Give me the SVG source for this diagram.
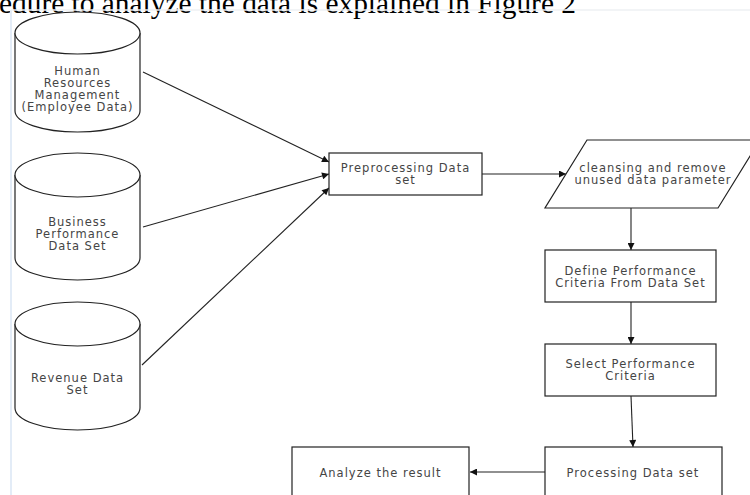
<svg xmlns="http://www.w3.org/2000/svg" width="750" height="495" viewBox="0 0 750 495">
<style>
.shape{fill:#fff;stroke:#222;stroke-width:1.2}
.lbl{font-family:"DejaVu Sans",sans-serif;font-size:11.5px;letter-spacing:1px;fill:#454545;text-anchor:middle}
.edge{fill:none;stroke:#222;stroke-width:1.1}
.cap{font-family:"Liberation Serif",serif;font-size:29px;fill:#000}
</style>
<defs>
<marker id="ah" viewBox="0 0 10 10" refX="10" refY="5" markerWidth="9" markerHeight="7" markerUnits="userSpaceOnUse" orient="auto">
<path d="M0,0 L10,5 L0,10 z" fill="#111"/>
</marker>
</defs>
<rect width="750" height="495" fill="#fff"/>
<text class="cap" x="-1" y="12.5" textLength="577" lengthAdjust="spacingAndGlyphs">edure to analyze  the data is explained in Figure 2</text>
<line x1="11" y1="10" x2="11" y2="495" stroke="#e3ecf7" stroke-width="2"/>
<line x1="11" y1="10" x2="750" y2="10" stroke="#eef0f3" stroke-width="1.5"/>

<g id="edges">
<path class="edge" marker-end="url(#ah)" d="M143,72 L329,162"/>
<path class="edge" marker-end="url(#ah)" d="M143,227 L329,174"/>
<path class="edge" marker-end="url(#ah)" d="M142,365 L329,188"/>
<path class="edge" marker-end="url(#ah)" d="M482,174 L566,174"/>
<path class="edge" marker-end="url(#ah)" d="M631,208 L631,250"/>
<path class="edge" marker-end="url(#ah)" d="M631,302 L631,344"/>
<path class="edge" marker-end="url(#ah)" d="M631,396 L633,447"/>
<path class="edge" marker-end="url(#ah)" d="M545,472 L470,472"/>
</g>

<g id="hr-data">
<path class="shape" d="M15,33 A62.5,21 0 0 1 140,33 L140,111 A62.5,21 0 0 1 15,111 Z"/>
<path class="shape" fill="none" d="M15,33 A62.5,21 0 0 0 140,33"/>
<text class="lbl" x="77.5" y="75">Human</text>
<text class="lbl" x="77.5" y="87">Resources</text>
<text class="lbl" x="77.5" y="99">Management</text>
<text class="lbl" x="77.5" y="111">(Employee Data)</text>
</g>

<g id="business-data">
<path class="shape" d="M15,175 A62.5,22 0 0 1 140,175 L140,258 A62.5,22 0 0 1 15,258 Z"/>
<path class="shape" fill="none" d="M15,175 A62.5,22 0 0 0 140,175"/>
<text class="lbl" x="77.5" y="226">Business</text>
<text class="lbl" x="77.5" y="238">Performance</text>
<text class="lbl" x="77.5" y="250">Data Set</text>
</g>

<g id="revenue-data">
<path class="shape" d="M15,324 A62.5,22 0 0 1 140,324 L140,408 A62.5,22 0 0 1 15,408 Z"/>
<path class="shape" fill="none" d="M15,324 A62.5,22 0 0 0 140,324"/>
<text class="lbl" x="77.5" y="382">Revenue Data</text>
<text class="lbl" x="77.5" y="394">Set</text>
</g>

<g id="preprocessing">
<rect class="shape" x="329" y="153" width="153" height="42"/>
<text class="lbl" x="405.5" y="172">Preprocessing Data</text>
<text class="lbl" x="405.5" y="184">set</text>
</g>

<g id="cleansing">
<path class="shape" d="M587,140 L760,140 L718,208 L545,208 Z"/>
<text class="lbl" x="653" y="172">cleansing and remove</text>
<text class="lbl" x="653" y="184">unused data parameter</text>
</g>

<g id="define">
<rect class="shape" x="545" y="250" width="171" height="52"/>
<text class="lbl" x="630.5" y="275">Define Performance</text>
<text class="lbl" x="630.5" y="287">Criteria From Data Set</text>
</g>

<g id="select">
<rect class="shape" x="545" y="344" width="171" height="52"/>
<text class="lbl" x="630.5" y="368">Select Performance</text>
<text class="lbl" x="630.5" y="380">Criteria</text>
</g>

<g id="processing">
<rect class="shape" x="545" y="447" width="177" height="60"/>
<text class="lbl" x="633" y="477">Processing Data set</text>
</g>

<g id="analyze">
<rect class="shape" x="292" y="447" width="177" height="60"/>
<text class="lbl" x="380.5" y="477">Analyze the result</text>
</g>
</svg>
